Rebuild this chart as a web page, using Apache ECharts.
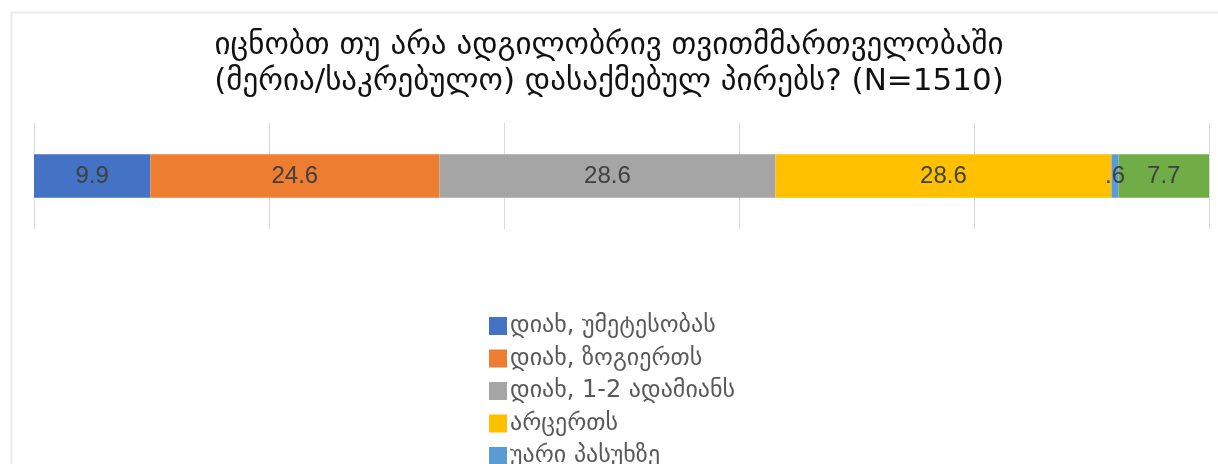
<!DOCTYPE html>
<html><head><meta charset="utf-8">
<script src="https://cdn.jsdelivr.net/npm/echarts@6/dist/echarts.min.js"></script>
<style>html,body{margin:0;padding:0;background:#fff}#c{width:1218px;height:464px}</style>
</head><body><div id="c"></div>
<script>
const titleLines = ['იცნობთ თუ არა ადგილობრივ თვითმმართველობაში', '(მერია/საკრებულო) დასაქმებულ პირებს? (N=1510)'];
const categories = [''];
const seriesNames = ['დიახ, უმეტესობას', 'დიახ, ზოგიერთს', 'დიახ, 1-2 ადამიანს', 'არცერთს', 'უარი პასუხზე', 'არ ვიცი'];
const seriesValues = [9.9, 24.6, 28.6, 28.6, 0.6, 7.7];
const colors = ['#4472C4', '#ED7D31', '#A5A5A5', '#FFC000', '#5B9BD5', '#70AD47'];
const axisMin = 0, axisMax = 100, axisInterval = 20;

const chart = echarts.init(document.getElementById('c'));
chart.setOption({
  animation: false,
  graphic: [{type: 'rect', left: 9, top: 10, shape: {width: 1260, height: 500}, style: {fill: 'none', stroke: '#ebebeb', lineWidth: 2}, silent: true}],
  title: {
    text: titleLines.join('\n'), left: 'center', top: 23,
    textStyle: {fontFamily: 'DejaVu Sans', fontSize: 31, fontWeight: 'normal', color: '#111111', lineHeight: 36}
  },
  legend: {
    orient: 'vertical', left: 484, top: 309, height: 400, itemWidth: 18, itemHeight: 18, itemGap: 8.5,
    icon: 'rect', textStyle: {fontFamily: 'DejaVu Sans', fontSize: 24, color: '#595959', padding: [0,0,0,-2]},
    data: seriesNames
  },
  grid: {left: 34, right: 9, top: 123, bottom: 235, containLabel: false},
  xAxis: {type: 'value', min: axisMin, max: axisMax, interval: axisInterval,
    axisLabel: {show: false}, axisLine: {show: false}, axisTick: {show: false},
    splitLine: {show: true, lineStyle: {color: '#d9d9d9', width: 1}}},
  yAxis: {type: 'category', data: categories, axisLine: {show: false}, axisTick: {show: false}, axisLabel: {show: false}},
  series: seriesNames.map((n, i) => ({
    name: n, type: 'bar', stack: 'total', barWidth: '41%',
    itemStyle: {color: colors[i]},
    label: {show: true, position: 'inside', fontFamily: 'Liberation Sans', fontSize: 24, color: '#404040',
      formatter: p => String(p.value).replace(/^0\./, '.')},
    data: [seriesValues[i]]
  }))
});
</script></body></html>
